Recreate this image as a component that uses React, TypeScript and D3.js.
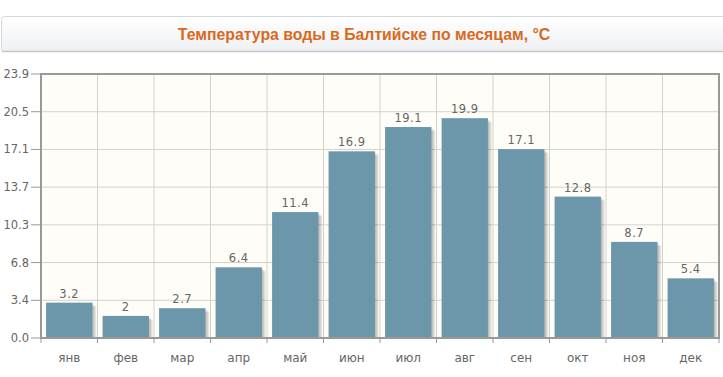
import React from "react";
import * as d3 from "d3";

const months = ["янв", "фев", "мар", "апр", "май", "июн", "июл", "авг", "сен", "окт", "ноя", "дек"];
const temps = [3.2, 2, 2.7, 6.4, 11.4, 16.9, 19.1, 19.9, 17.1, 12.8, 8.7, 5.4];
const yTicks = ["0.0", "3.4", "6.8", "10.3", "13.7", "17.1", "20.5", "23.9"];
const title = "Температура воды в Балтийске по месяцам, °C";
const yMax = 23.9;

export default function App() {
  const W = 723, H = 377;
  const left = 41, right = 719, top = 74, bottom = 338;
  const x = d3.scaleBand<string>().domain(months).range([left, right]).paddingInner(0.18).paddingOuter(0.09);
  const xc = d3.scaleBand<string>().domain(months).range([left, right]).padding(0);
  const y = d3.scaleLinear().domain([0, yMax]).range([bottom, top]);
  const tickVals = yTicks.map((t, i) => (yMax / (yTicks.length - 1)) * i);
  const font = "'DejaVu Sans', Verdana, sans-serif";
  return (
    <svg width={W} height={H} style={{ position: "absolute", left: 0, top: 0, display: "block" }}>
      <defs>
        <linearGradient id="tg" x1="0" y1="0" x2="0" y2="1">
          <stop offset="0" stopColor="#ffffff" />
          <stop offset="1" stopColor="#eef0f3" />
        </linearGradient>
      </defs>
      <rect x={0} y={0} width={W} height={H} fill="#fff" />
      {/* title box */}
      <rect x={1.5} y={16.5} width={W + 10} height={35} rx={3} fill="url(#tg)" stroke="#d6d8dc" />
      <line x1={2} x2={W} y1={51.5} y2={51.5} stroke="#c4c6ca" strokeWidth={1.5} />
      <text x={364} y={40} textAnchor="middle" fontFamily="'Liberation Sans', Arial, sans-serif" fontWeight="bold" fontSize={15.8} fill="#d86a1e">
        {title}
      </text>
      {/* plot background */}
      <rect x={left} y={top} width={right - left} height={bottom - top} fill="#fffdf7" />
      {/* grid */}
      {tickVals.map((v, i) => (
        <line key={"h" + i} x1={left} x2={right} y1={y(v)} y2={y(v)} stroke="#d4d2cc" strokeWidth={1} />
      ))}
      {months.map((m) => (
        <line key={"v" + m} x1={xc(m)!} x2={xc(m)!} y1={top} y2={bottom} stroke="#d4d2cc" strokeWidth={1} />
      ))}
      {/* bars with shadows */}
      {months.map((m, i) => {
        const bx = x(m)!;
        const bw = x.bandwidth();
        const by = y(temps[i]);
        return (
          <g key={"b" + m}>
            {[1, 2, 3, 4].map((o) => (
              <rect key={o} x={bx + o} y={by + o} width={bw} height={bottom - by - o} fill="#000" fillOpacity={0.07} />
            ))}
            <rect x={bx} y={by} width={bw} height={bottom - by} fill="#6c97ab" />
            <text x={bx + bw / 2} y={by - 5} textAnchor="middle" fontFamily={font} fontSize={11.5} fill="#666" letterSpacing={0.5}>
              {String(temps[i])}
            </text>
          </g>
        );
      })}
      {/* border */}
      <rect x={left} y={top} width={right - left} height={bottom - top} fill="none" stroke="#999" strokeWidth={2} />
      {/* y ticks */}
      {tickVals.map((v, i) => (
        <g key={"yt" + i}>
          <line x1={left - 10} x2={left} y1={y(v)} y2={y(v)} stroke="#999" />
          <text x={left - 12} y={y(v) + 4} textAnchor="end" fontFamily={font} fontSize={11.5} fill="#666">
            {yTicks[i]}
          </text>
        </g>
      ))}
      {/* x ticks */}
      {months.map((m) => (
        <line key={"xt" + m} x1={xc(m)!} x2={xc(m)!} y1={bottom} y2={bottom + 5} stroke="#999" />
      ))}
      <line x1={right} x2={right} y1={bottom} y2={bottom + 5} stroke="#999" />
      {months.map((m) => (
        <text key={"xl" + m} x={xc(m)! + xc.bandwidth() / 2} y={362} textAnchor="middle" fontFamily={font} fontSize={12} fill="#666">
          {m}
        </text>
      ))}
    </svg>
  );
}
